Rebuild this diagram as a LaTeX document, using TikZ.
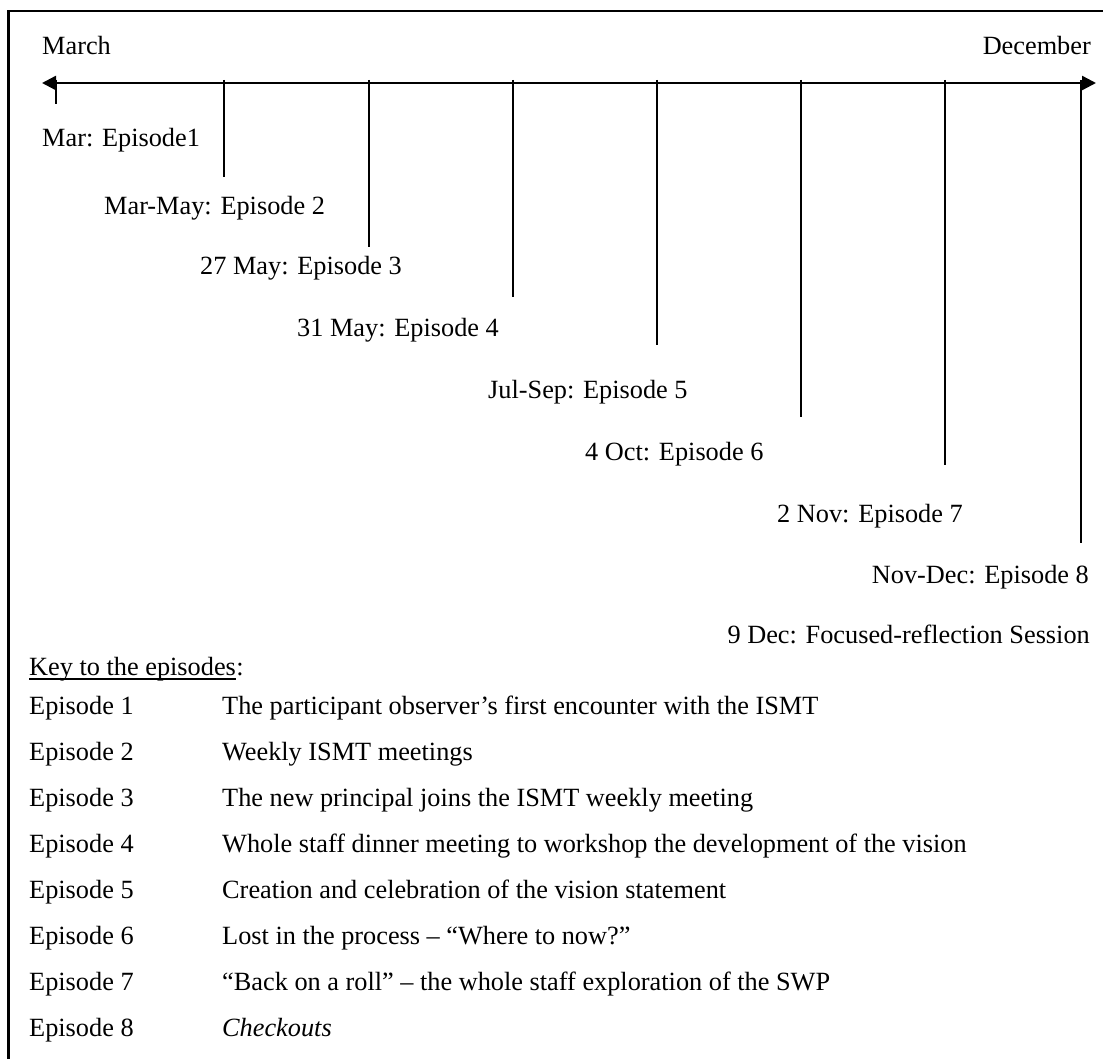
\documentclass[tikz,border=0pt]{standalone}
\usepackage{fontspec}
\setmainfont{Liberation Serif}
\usetikzlibrary{arrows.meta}

\begin{document}
\begin{tikzpicture}[x=1pt,y=-1pt,
    font=\fontsize{26.3}{31}\selectfont,
    lbl/.style={inner sep=0pt,anchor=base west},
    lblr/.style={inner sep=0pt,anchor=base east},
    frame/.style={line width=2.6pt},
    axis/.style={line width=2.4pt,{Triangle[length=14pt,width=14pt]}-{Triangle[length=14pt,width=14pt]}},
    tick/.style={line width=1.6pt}]
  \useasboundingbox (0,0) rectangle (1103,1059);

  % open frame: top and left edges only
  \draw[frame] (8.5,1059) -- (8.5,11) -- (1103,11);

  % month labels at both ends of the time line
  \node[lbl]  (march) at (42,55)   {March};
  \node[lblr] (dec)   at (1091,55) {December};

  % time line with arrowheads at both ends
  \coordinate (tl) at (42,83);
  \coordinate (tr) at (1096,83);
  \draw[axis] (tl) -- (tr);

  % drop lines from the time line to each episode
  \foreach \i/\x/\y in {1/56/104, 2/224/177, 3/369/247, 4/513/297,
                        5/657/345, 6/801/417, 7/945/465, 8/1081/543} {
    \coordinate (t\i) at (\x,80);
    \coordinate (b\i) at (\x,\y);
    \draw[tick] (t\i) -- (b\i);
  }

  % episode dates
  \node[lbl]  (e1) at (42,147)   {Mar: Episode1};
  \node[lbl]  (e2) at (104,215)  {Mar-May: Episode 2};
  \node[lbl]  (e3) at (200,275)  {27 May: Episode 3};
  \node[lbl]  (e4) at (297,337)  {31 May: Episode 4};
  \node[lbl]  (e5) at (488,398)  {Jul-Sep: Episode 5};
  \node[lbl]  (e6) at (585,460)  {4 Oct: Episode 6};
  \node[lbl]  (e7) at (777,522)  {2 Nov: Episode 7};
  \node[lblr] (e8) at (1089,583) {Nov-Dec: Episode 8};
  \node[lblr] (fr) at (1090,643) {9 Dec: Focused-reflection Session};

  % key heading, underlined up to the colon
  \node[lbl] (key) at (29,675) {Key to the episodes};
  \node[lbl] (keyc) at (key.base east) {:};
  \draw[line width=1.3pt] ([yshift=-4pt]key.base west) -- ([yshift=-4pt]key.base east);

  % key rows
  \foreach \n/\y/\t in {
      1/714/{The participant observer’s first encounter with the ISMT},
      2/760/{Weekly ISMT meetings},
      3/806/{The new principal joins the ISMT weekly meeting},
      4/852/{Whole staff dinner meeting to workshop the development of the vision},
      5/898/{Creation and celebration of the vision statement},
      6/944/{Lost in the process – “Where to now?”},
      7/990/{“Back on a roll” – the whole staff exploration of the SWP},
      8/1036/{\itshape Checkouts}} {
    \node[lbl] (k\n) at (29,\y) {Episode \n};
    \node[lbl] (d\n) at (222,\y) {\t};
  }
\end{tikzpicture}
\end{document}
